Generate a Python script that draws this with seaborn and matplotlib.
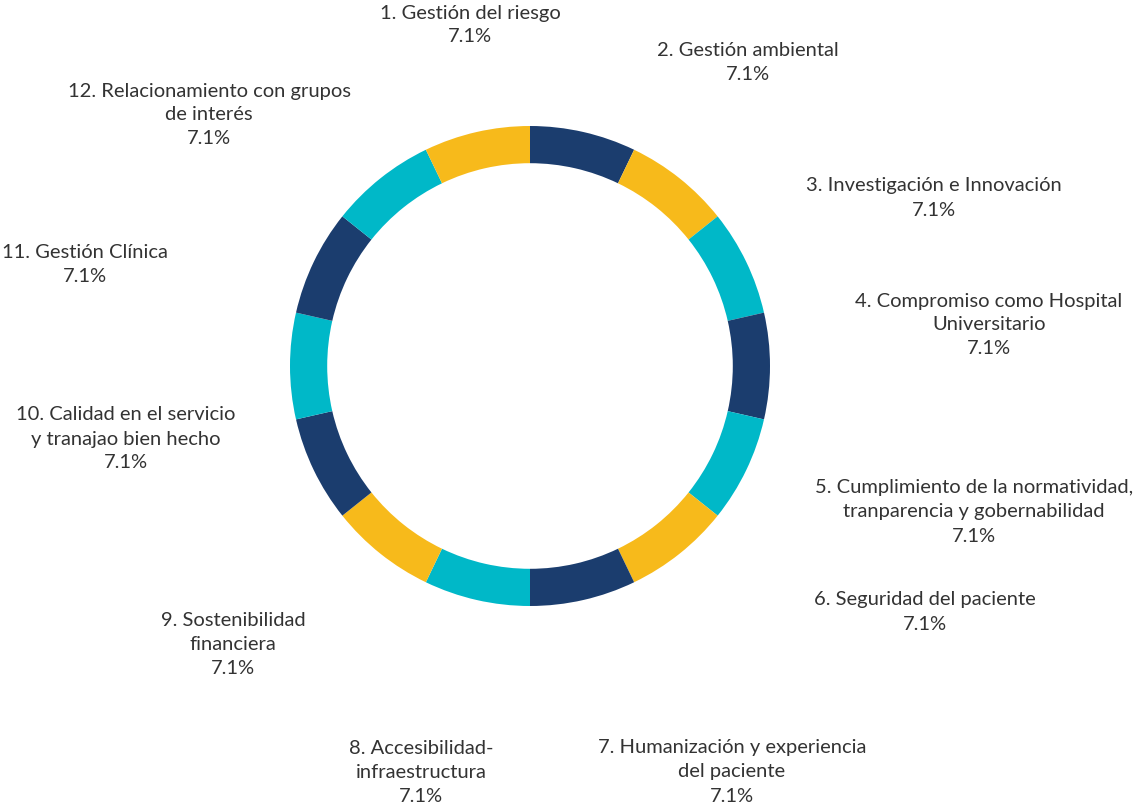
import matplotlib
matplotlib.use("Agg")
import matplotlib.pyplot as plt
import seaborn as sns

sns.set_theme(style="white")
plt.rcParams["font.family"] = ["Lato", "DejaVu Sans"]

# Fourteen equal components of the strategic map (1/14 each -> 7.1%)
shares = [1] * 14
segment_colors = ["#1B3D6E", "#F7BA1B", "#00B8C8", "#1B3D6E", "#00B8C8",
                  "#F7BA1B", "#1B3D6E", "#00B8C8", "#F7BA1B", "#1B3D6E",
                  "#00B8C8", "#1B3D6E", "#00B8C8", "#F7BA1B"]

labels = [
    "1. Gestión del riesgo",
    "2. Gestión ambiental",
    "3. Investigación e Innovación",
    "4. Compromiso como Hospital\nUniversitario",
    "5. Cumplimiento de la normatividad,\ntranparencia y gobernabilidad",
    "6. Seguridad del paciente",
    "7. Humanización y experiencia\ndel paciente",
    "8. Accesibilidad-\ninfraestructura",
    "9. Sostenibilidad\nfinanciera",
    "10. Calidad en el servicio\ny tranajao bien hecho",
    "11. Gestión Clínica",
    "12. Relacionamiento con grupos\nde interés",
]
label_pcts = ["7.1%"] * 12

# Label anchor points (pixels from top-left of the canvas)
label_xy = [(470, 25), (748, 63), (934, 198), (989, 325), (974, 512),
            (925, 612), (732, 772), (421, 772), (233, 644), (126, 439),
            (85, 265), (209, 115)]

W, H = 1134, 810
fig = plt.figure(figsize=(W / 100, H / 100), dpi=100)
ax = fig.add_axes([0, 0, 1, 1])
ax.set_xlim(0, W)
ax.set_ylim(0, H)
ax.set_aspect("equal")
ax.axis("off")

cx, cy, radius = 530, H - 366, 240
ax.pie(shares, colors=segment_colors, startangle=90, counterclock=False,
       center=(cx, cy), radius=radius, frame=True,
       wedgeprops=dict(width=radius * 0.155, linewidth=0))
ax.set_xlim(0, W)
ax.set_ylim(0, H)
ax.axis("off")

for text, pct, (x, y) in zip(labels, label_pcts, label_xy):
    ax.text(x, H - y, f"{text}\n{pct}", ha="center", va="center",
            fontsize=14.5, color="#333333", linespacing=1.5)

fig.savefig("out.png", dpi=100, facecolor="white")
